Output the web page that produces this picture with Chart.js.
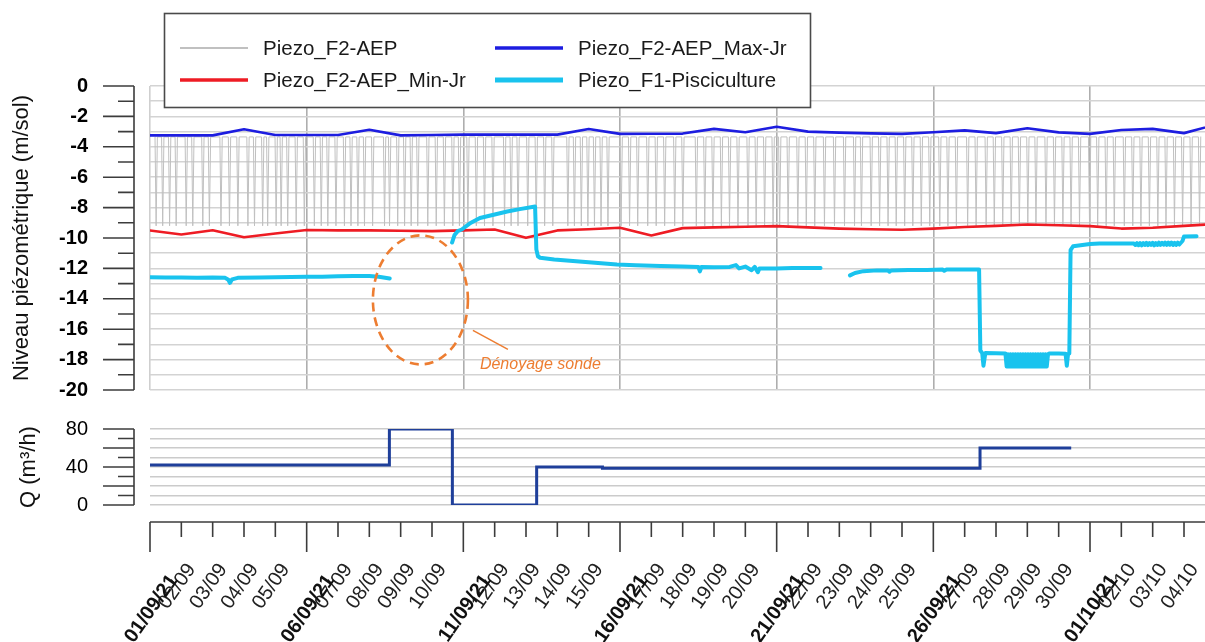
<!DOCTYPE html>
<html><head><meta charset="utf-8">
<script src="https://cdn.jsdelivr.net/npm/chart.js@4.4.1/dist/chart.umd.min.js"></script>
<style>
html,body{margin:0;padding:0;background:#fff;}
#wrap{position:relative;width:1205px;height:642px;overflow:hidden;background:#fff;}
canvas{position:absolute;left:0;}
#c1{top:0;} #c2{top:400px;}
</style></head><body>
<div id="wrap"><canvas id="c1" width="1205" height="420"></canvas><canvas id="c2" width="1205" height="242"></canvas></div>
<script>
// ---------- DATA ----------
const dayLabels = ['01/09','02/09','03/09','04/09','05/09','06/09','07/09','08/09','09/09','10/09','11/09','12/09','13/09','14/09','15/09','16/09','17/09','18/09','19/09','20/09','21/09','22/09','23/09','24/09','25/09','26/09','27/09','28/09','29/09','30/09','01/10','02/10','03/10','04/10'];
const majorDays = [0,5,10,15,20,25,30];
const majorLabels = ['01/09/21','06/09/21','11/09/21','16/09/21','21/09/21','26/09/21','01/10/21'];
const levelTickLabels = [0,-2,-4,-6,-8,-10,-12,-14,-16,-18,-20];
const flowTickLabels = [0,40,80];

const dailyDays = [0,1,2,3,4,5,6,7,8,9,10,11,12,13,14,15,16,17,18,19,20,21,22,23,24,25,26,27,28,29,30,31,32,33,34];
const maxJr = [-3.25,-3.25,-3.25,-2.85,-3.22,-3.22,-3.22,-2.88,-3.25,-3.22,-3.2,-3.2,-3.2,-3.2,-2.83,-3.15,-3.14,-3.13,-2.82,-3.04,-2.68,-3.0,-3.07,-3.12,-3.15,-3.04,-2.92,-3.1,-2.78,-3.05,-3.15,-2.89,-2.82,-3.1,-2.55];
const minJr = [-9.51,-9.77,-9.49,-9.95,-9.7,-9.47,-9.5,-9.5,-9.52,-9.55,-9.5,-9.44,-9.99,-9.5,-9.42,-9.33,-9.84,-9.35,-9.3,-9.26,-9.22,-9.3,-9.38,-9.42,-9.46,-9.38,-9.28,-9.2,-9.11,-9.16,-9.22,-9.38,-9.33,-9.2,-9.08];

// Piezo_F2-AEP : pumping drawdown spikes (times)
const greySpikeDays = [0.16,0.37,0.59,0.80,1.12,1.33,1.65,1.86,2.23,2.50,2.77,3.09,3.30,3.56,3.72,3.99,4.15,4.36,4.63,4.89,5.21,5.43,5.64,5.90,6.17,6.38,6.60,6.81,7.07,7.45,7.61,7.87,8.09,8.30,8.51,
 8.83,9.10,9.36,9.63,9.84,10.11,10.38,10.64,10.91,11.28,11.49,11.71,12.02,12.29,12.56,12.82,13.30,13.51,13.73,13.94,14.15,14.36,14.58,15.00,15.27,15.53,15.85,16.12,16.39,16.71,16.97,
 17.40,17.67,17.93,18.20,18.46,18.73,19.05,19.31,19.58,19.85,20.06,20.33,20.64,20.91,21.18,21.49,21.81,22.13,22.45,22.67,22.98,23.25,23.52,23.78,24.05,24.31,24.58,24.85,25.17,25.43,25.70,
 26.06,26.33,26.65,26.91,27.18,27.45,27.71,27.98,28.24,28.56,28.83,29.10,29.36,29.63,29.95,30.21,30.48,30.74,31.06,31.33,31.59,31.86,32.13,32.39,32.66,32.92,33.19,33.46];
const greyRest = -3.35;
const greyDrawdown = -9.2;

const f1Days = [0,0.5,1.0,1.5,2.0,2.4,2.5,2.55,2.62,2.8,3.5,4.0,4.5,5.0,5.5,6.0,6.5,7.0,7.3,7.65,7.66,
 9.64,9.72,9.82,9.95,10.2,10.53,11.0,11.4,11.8,12.29,12.33,12.38,12.45,12.9,13.5,14.0,14.9,15.5,16.3,17.0,17.5,17.55,17.6,18.0,18.5,18.7,18.8,19.0,19.2,19.3,19.4,19.45,20.0,20.5,21.0,21.4,21.41,
 22.34,22.5,22.77,23.2,23.55,23.6,23.65,24.2,24.8,25.3,25.35,25.42,26.0,26.46,26.5,26.56,26.6,26.66,27.0,27.3,
 27.34,27.38,27.42,27.46,27.5,27.54,27.58,27.62,27.66,27.7,27.74,27.78,27.82,27.86,27.9,27.94,27.98,28.02,28.06,28.1,28.14,28.18,28.22,28.26,28.3,28.34,28.38,28.42,28.46,28.5,28.54,28.58,28.62,28.66,28.7,
 29.0,29.22,29.26,29.3,29.34,29.38,29.46,30.0,30.3,31.0,31.4,
 31.45,31.5,31.55,31.6,31.65,31.7,31.75,31.8,31.85,31.9,31.95,32.0,32.05,32.1,32.15,32.2,32.25,32.3,32.35,32.4,32.45,32.5,32.55,32.6,32.65,32.7,32.75,32.8,32.85,
 32.95,33.0,33.4];
const f1Level = [-12.58,-12.6,-12.6,-12.62,-12.6,-12.62,-12.75,-12.95,-12.72,-12.62,-12.6,-12.58,-12.56,-12.55,-12.55,-12.52,-12.5,-12.5,-12.55,-12.66,null,
 -10.3,-9.8,-9.55,-9.44,-9.05,-8.68,-8.45,-8.26,-8.1,-7.93,-10.75,-11.2,-11.3,-11.42,-11.52,-11.6,-11.74,-11.8,-11.85,-11.88,-11.9,-12.2,-11.9,-11.92,-11.9,-11.78,-12.0,-11.88,-12.12,-11.9,-12.25,-12.0,-12.0,-11.98,-11.97,-11.97,null,
 -12.46,-12.3,-12.18,-12.13,-12.13,-12.22,-12.13,-12.11,-12.1,-12.08,-12.16,-12.08,-12.07,-12.07,-17.4,-17.57,-18.4,-17.57,-17.58,-17.6,
 -18.45,-17.65,-18.45,-17.65,-18.45,-17.65,-18.45,-17.65,-18.45,-17.65,-18.45,-17.65,-18.45,-17.65,-18.45,-17.65,-18.45,-17.65,-18.45,-17.65,-18.45,-17.65,-18.45,-17.65,-18.45,-17.65,-18.45,-17.65,-18.45,-17.65,-18.45,-17.65,-18.45,-17.65,-17.6,
 -17.6,-17.62,-18.4,-17.62,-17.6,-10.8,-10.54,-10.4,-10.36,-10.36,-10.36,
 -10.46,-10.34,-10.47,-10.33,-10.48,-10.34,-10.46,-10.32,-10.47,-10.33,-10.45,-10.32,-10.48,-10.34,-10.46,-10.3,-10.45,-10.32,-10.44,-10.3,-10.45,-10.31,-10.44,-10.3,-10.46,-10.32,-10.45,-10.31,-10.43,
 -10.2,-9.9,-9.88];

const qDays = [0,7.64,9.65,12.34,14.44,26.49,29.4];
const qFlow = [42,80,0,40,38.6,60,60];

// ---------- BUILD ----------
const pts = (xs, ys) => xs.map((x, i) => ({x: x, y: ys[i]}));
const greyPts = [];
greySpikeDays.forEach(t => {
  greyPts.push({x: t, y: greyRest}, {x: t + 0.035, y: greyDrawdown}, {x: t + 0.075, y: greyRest});
});
const X_MAX = 33.67;
const levelGrid = []; for (let v = -20; v <= 0; v++) levelGrid.push(v);
const flowGrid = []; for (let v = 0; v <= 80; v += 10) flowGrid.push(v);
const allDays = dayLabels.map((l, i) => i);
const isMajor = v => majorDays.includes(v);

Chart.defaults.font.family = '"Liberation Sans", Arial, Helvetica, sans-serif';
Chart.defaults.color = '#111';

const axisDecor = {
  id: 'axisDecor',
  afterDraw(chart, args, opts) {
    const {ctx, chartArea: a} = chart;
    const y = chart.scales.y;
    ctx.save();
    ctx.strokeStyle = '#3c3c3c'; ctx.lineWidth = 1.6;
    const ax = a.left - 16;
    ctx.beginPath();
    ctx.moveTo(ax, y.getPixelForValue(y.min)); ctx.lineTo(ax, y.getPixelForValue(y.max));
    opts.major.forEach(v => { const p = y.getPixelForValue(v); ctx.moveTo(ax, p); ctx.lineTo(ax - 31, p); });
    opts.minor.forEach(v => { const p = y.getPixelForValue(v); ctx.moveTo(ax, p); ctx.lineTo(ax - 16, p); });
    if (opts.xAxis) {
      const x = chart.scales.x;
      const ay = a.bottom + 17;
      ctx.moveTo(a.left, ay); ctx.lineTo(a.right, ay);
      allDays.forEach(d => {
        const p = x.getPixelForValue(d);
        ctx.moveTo(p, ay); ctx.lineTo(p, ay + (isMajor(d) ? 30 : 15));
      });
    }
    ctx.stroke();
    if (opts.xAxis) {
      // bold 5-day date labels (second label row of the time axis)
      const x = chart.scales.x;
      ctx.fillStyle = '#111';
      ctx.font = 'bold 20px "Liberation Sans", Arial, sans-serif';
      ctx.textAlign = 'right'; ctx.textBaseline = 'middle';
      majorDays.forEach((d, i) => {
        ctx.save();
        ctx.translate(x.getPixelForValue(d) + 23.8, a.bottom + 71.9);
        ctx.rotate(-55 * Math.PI / 180);
        ctx.fillText(majorLabels[i], 0, 0);
        ctx.restore();
      });
    }
    ctx.restore();
  }
};

const legendOrder = [['Piezo_F2-AEP', 'Piezo_F2-AEP_Max-Jr'], ['Piezo_F2-AEP_Min-Jr', 'Piezo_F1-Pisciculture']];
const legendBox = {
  id: 'legendBox',
  afterDraw(chart) {
    const ctx = chart.ctx;
    ctx.save();
    ctx.fillStyle = '#fff';
    ctx.fillRect(164.5, 13.5, 646, 94);
    ctx.strokeStyle = '#4a4a4a'; ctx.lineWidth = 1.6;
    ctx.strokeRect(164.5, 13.5, 646, 94);
    const colX = [180, 495], rowY = [48, 80];
    ctx.font = '20.5px "Liberation Sans", Arial, sans-serif';
    ctx.textBaseline = 'middle'; ctx.textAlign = 'left';
    legendOrder.forEach((row, r) => row.forEach((label, c) => {
      const ds = chart.data.datasets.find(d => d.label === label);
      ctx.strokeStyle = ds.borderColor;
      ctx.lineWidth = ds.label === 'Piezo_F2-AEP' ? 2 : ds.borderWidth + 0.8;
      ctx.beginPath(); ctx.moveTo(colX[c], rowY[r]); ctx.lineTo(colX[c] + 68, rowY[r]); ctx.stroke();
      ctx.fillStyle = '#1a1a1a';
      ctx.fillText(label, colX[c] + 83, rowY[r] + 1);
    }));
    ctx.restore();
  }
};

const noteSpot = {day: 8.63, level: -14.07};
const annotation = {
  id: 'annot',
  afterDatasetsDraw(chart) {
    const {ctx} = chart;
    const cx = chart.scales.x.getPixelForValue(noteSpot.day);
    const cy = chart.scales.y.getPixelForValue(noteSpot.level);
    ctx.save();
    ctx.strokeStyle = '#ED7D31'; ctx.lineWidth = 2.6;
    ctx.setLineDash([9, 6]);
    ctx.beginPath(); ctx.ellipse(cx, cy, 47.5, 64.5, 0, 0, Math.PI * 2); ctx.stroke();
    ctx.setLineDash([]);
    ctx.lineWidth = 1.5;
    ctx.beginPath(); ctx.moveTo(cx + 52.5, cy + 30.5); ctx.lineTo(cx + 87.5, cy + 49.5); ctx.stroke();
    ctx.fillStyle = '#ED7D31';
    ctx.font = 'italic 16px "Liberation Sans", Arial, sans-serif';
    ctx.textBaseline = 'alphabetic';
    ctx.fillText('Dénoyage sonde', cx + 59.5, cy + 69.5);
    ctx.restore();
  }
};

new Chart(document.getElementById('c1'), {
  type: 'line',
  data: {datasets: [
    {label: 'Piezo_F1-Pisciculture', data: pts(f1Days, f1Level), borderColor: '#19c3ee', borderWidth: 4, order: 0, spanGaps: false},
    {label: 'Piezo_F2-AEP_Min-Jr', data: pts(dailyDays, minJr), borderColor: '#ee1c24', borderWidth: 2.6, order: 1},
    {label: 'Piezo_F2-AEP_Max-Jr', data: pts(dailyDays, maxJr), borderColor: '#1d1de0', borderWidth: 2.6, order: 2},
    {label: 'Piezo_F2-AEP', data: greyPts, borderColor: '#c0c0c0', borderWidth: 1, order: 3}
  ]},
  options: {
    responsive: false, animation: false, events: [],
    elements: {point: {radius: 0}, line: {tension: 0, borderJoinStyle: 'round', borderCapStyle: 'round'}},
    layout: {padding: {top: 86, right: 0, bottom: 30, left: 0}},
    plugins: {legend: {display: false}, tooltip: {enabled: false}, axisDecor: {major: levelTickLabels, minor: levelGrid.filter(v => !levelTickLabels.includes(v)), xAxis: false}},
    scales: {
      x: {type: 'linear', min: 0, max: X_MAX,
        afterBuildTicks: s => { s.ticks = majorDays.map(v => ({value: v})); },
        ticks: {display: false}, border: {display: false},
        grid: {color: c => (c.tick && c.tick.value === 0) ? '#cfcfcf' : '#aeaeae', lineWidth: 1.6, drawTicks: false},
        afterFit: s => { s.height = 0; s.paddingLeft = 0; s.paddingRight = 0; }},
      y: {type: 'linear', min: -20, max: 0,
        afterBuildTicks: s => { s.ticks = levelGrid.map(v => ({value: v})); },
        ticks: {autoSkip: false, padding: 62, color: '#000', font: {size: 20, weight: 'bold'}, callback: v => levelTickLabels.includes(v) ? String(v) : ''},
        grid: {color: '#d3d3d3', lineWidth: 1.5, drawTicks: false}, border: {display: false},
        title: {display: true, text: 'Niveau piézométrique (m/sol)', color: '#111', font: {size: 22}, padding: {top: 9, bottom: 0}},
        afterFit: s => { s.width = 150; s.paddingTop = 0; s.paddingBottom = 0; }}
    }
  },
  plugins: [axisDecor, annotation, legendBox]
});

new Chart(document.getElementById('c2'), {
  type: 'line',
  data: {datasets: [
    {label: 'Q', data: pts(qDays, qFlow), borderColor: '#1f3f9a', borderWidth: 3, stepped: true}
  ]},
  options: {
    responsive: false, animation: false, events: [],
    elements: {point: {radius: 0}, line: {borderCapStyle: 'butt', borderJoinStyle: 'miter'}},
    layout: {padding: {top: 29, right: 0, bottom: 0, left: 0}},
    plugins: {legend: {display: false}, tooltip: {enabled: false}, axisDecor: {major: [0, 20, 40, 60, 80], minor: [10, 30, 50, 70], xAxis: true}},
    scales: {
      x: {type: 'linear', position: 'bottom', min: 0, max: X_MAX,
        afterBuildTicks: s => { s.ticks = allDays.filter(v => !isMajor(v)).map(v => ({value: v})); },
        ticks: {autoSkip: false, minRotation: 55, maxRotation: 55, padding: 46, labelOffset: 10.4,
          color: '#222', font: {size: 20}, callback: v => dayLabels[v]},
        grid: {display: false}, border: {display: false},
        afterFit: s => { s.height = 137; s.paddingLeft = 0; s.paddingRight = 0; }},
      y: {type: 'linear', min: 0, max: 80,
        afterBuildTicks: s => { s.ticks = flowGrid.map(v => ({value: v})); },
        ticks: {autoSkip: false, padding: 62, color: '#000', font: {size: 20}, callback: v => flowTickLabels.includes(v) ? String(v) : ''},
        grid: {color: '#cbcbcb', lineWidth: 1.5, drawTicks: false}, border: {display: false},
        title: {display: true, text: 'Q (m³/h)', color: '#111', font: {size: 22}, padding: {top: 16, bottom: 0}},
        afterFit: s => { s.width = 150; s.paddingTop = 0; s.paddingBottom = 0; }}
    }
  },
  plugins: [axisDecor]
});
</script>
</body></html>
